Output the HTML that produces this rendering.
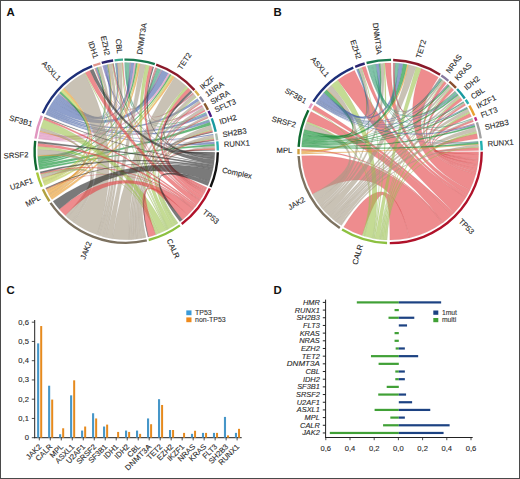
<!DOCTYPE html>
<html><head><meta charset="utf-8"><style>
html,body{margin:0;padding:0;background:#fff;}
svg{display:block;}
text{font-family:"Liberation Sans",sans-serif;}
</style></head><body>
<svg width="520" height="479" viewBox="0 0 520 479">
<rect x="0" y="0" width="520" height="479" fill="#fff"/>

<g font-size="7.7" fill="#2b2b2b" stroke="#2b2b2b" stroke-width="0.12">
<path d="M156.23 67.85A88.6 88.6 0 0 1 157.27 68.23Q126.2 151.2 192.76 92.72A88.6 88.6 0 0 1 193.86 94Q126.2 151.2 156.23 67.85Z" fill="#be5761" fill-opacity="0.6" stroke="#ac7b80" stroke-width="0.35" stroke-opacity="0.35"/>
<path d="M155.19 67.48A88.6 88.6 0 0 1 156.23 67.85Q126.2 151.2 201.82 105.04A88.6 88.6 0 0 1 202.71 106.52Q126.2 151.2 155.19 67.48Z" fill="#be5761" fill-opacity="0.6" stroke="#ac7b80" stroke-width="0.35" stroke-opacity="0.35"/>
<path d="M126.15 62.6A88.6 88.6 0 0 1 129.59 62.66Q126.2 151.2 157.27 68.23A88.6 88.6 0 0 1 160.48 69.5Q126.2 151.2 126.15 62.6Z" fill="#2b9d6e" fill-opacity="0.6" stroke="#669c86" stroke-width="0.35" stroke-opacity="0.35"/>
<path d="M125.32 62.6A88.6 88.6 0 0 1 126.15 62.6Q126.2 151.2 205.83 112.36A88.6 88.6 0 0 1 206.32 113.37Q126.2 151.2 125.32 62.6Z" fill="#2b9d6e" fill-opacity="0.6" stroke="#669c86" stroke-width="0.35" stroke-opacity="0.35"/>
<path d="M124.5 62.62A88.6 88.6 0 0 1 125.32 62.6Q126.2 151.2 208.92 119.45A88.6 88.6 0 0 1 209.26 120.36Q126.2 151.2 124.5 62.62Z" fill="#2b9d6e" fill-opacity="0.6" stroke="#669c86" stroke-width="0.35" stroke-opacity="0.35"/>
<path d="M114.94 63.32A88.6 88.6 0 0 1 115.81 63.21Q126.2 151.2 160.48 69.5A88.6 88.6 0 0 1 161.11 69.77Q126.2 151.2 114.94 63.32Z" fill="#46a389" fill-opacity="0.6" stroke="#73a093" stroke-width="0.35" stroke-opacity="0.35"/>
<path d="M103.65 65.52A88.6 88.6 0 0 1 104.28 65.35Q126.2 151.2 129.59 62.66A88.6 88.6 0 0 1 130.27 62.69Q126.2 151.2 103.65 65.52Z" fill="#6e61be" fill-opacity="0.6" stroke="#8680ac" stroke-width="0.35" stroke-opacity="0.35"/>
<path d="M102.9 65.72A88.6 88.6 0 0 1 103.65 65.52Q126.2 151.2 161.11 69.77A88.6 88.6 0 0 1 161.87 70.1Q126.2 151.2 102.9 65.72Z" fill="#6e61be" fill-opacity="0.6" stroke="#8680ac" stroke-width="0.35" stroke-opacity="0.35"/>
<path d="M102.52 65.82A88.6 88.6 0 0 1 102.9 65.72Q126.2 151.2 214.3 141.79A88.6 88.6 0 0 1 214.35 142.3Q126.2 151.2 102.52 65.82Z" fill="#6e61be" fill-opacity="0.6" stroke="#8680ac" stroke-width="0.35" stroke-opacity="0.35"/>
<path d="M95 68.28A88.6 88.6 0 0 1 95.55 68.07Q126.2 151.2 130.27 62.69A88.6 88.6 0 0 1 130.69 62.71Q126.2 151.2 95 68.28Z" fill="#d96e61" fill-opacity="0.6" stroke="#b98680" stroke-width="0.35" stroke-opacity="0.35"/>
<path d="M94.45 68.48A88.6 88.6 0 0 1 95 68.28Q126.2 151.2 161.87 70.1A88.6 88.6 0 0 1 162.25 70.27Q126.2 151.2 94.45 68.48Z" fill="#d96e61" fill-opacity="0.6" stroke="#b98680" stroke-width="0.35" stroke-opacity="0.35"/>
<path d="M58.07 94.56A88.6 88.6 0 0 1 58.83 93.66Q126.2 151.2 95.55 68.07A88.6 88.6 0 0 1 97.03 67.54Q126.2 151.2 58.07 94.56Z" fill="#4461aa" fill-opacity="0.6" stroke="#7280a3" stroke-width="0.35" stroke-opacity="0.35"/>
<path d="M56.21 96.87A88.6 88.6 0 0 1 58.07 94.56Q126.2 151.2 104.28 65.35A88.6 88.6 0 0 1 106.8 64.75Q126.2 151.2 56.21 96.87Z" fill="#4461aa" fill-opacity="0.6" stroke="#7280a3" stroke-width="0.35" stroke-opacity="0.35"/>
<path d="M55.31 98.05A88.6 88.6 0 0 1 56.21 96.87Q126.2 151.2 115.81 63.21A88.6 88.6 0 0 1 117.54 63.02Q126.2 151.2 55.31 98.05Z" fill="#4461aa" fill-opacity="0.6" stroke="#7280a3" stroke-width="0.35" stroke-opacity="0.35"/>
<path d="M53.15 101.06A88.6 88.6 0 0 1 55.31 98.05Q126.2 151.2 130.69 62.71A88.6 88.6 0 0 1 134.12 62.95Q126.2 151.2 53.15 101.06Z" fill="#4461aa" fill-opacity="0.6" stroke="#7280a3" stroke-width="0.35" stroke-opacity="0.35"/>
<path d="M49.22 107.34A88.6 88.6 0 0 1 53.15 101.06Q126.2 151.2 162.25 70.27A88.6 88.6 0 0 1 168.44 73.32Q126.2 151.2 49.22 107.34Z" fill="#4461aa" fill-opacity="0.6" stroke="#7280a3" stroke-width="0.35" stroke-opacity="0.35"/>
<path d="M48.14 109.29A88.6 88.6 0 0 1 49.22 107.34Q126.2 151.2 197.42 98.5A88.6 88.6 0 0 1 199.06 100.78Q126.2 151.2 48.14 109.29Z" fill="#4461aa" fill-opacity="0.6" stroke="#7280a3" stroke-width="0.35" stroke-opacity="0.35"/>
<path d="M47.32 110.86A88.6 88.6 0 0 1 48.14 109.29Q126.2 151.2 206.32 113.37A88.6 88.6 0 0 1 207.25 115.42Q126.2 151.2 47.32 110.86Z" fill="#4461aa" fill-opacity="0.6" stroke="#7280a3" stroke-width="0.35" stroke-opacity="0.35"/>
<path d="M46.52 112.45A88.6 88.6 0 0 1 47.32 110.86Q126.2 151.2 209.26 120.36A88.6 88.6 0 0 1 209.92 122.19Q126.2 151.2 46.52 112.45Z" fill="#4461aa" fill-opacity="0.6" stroke="#7280a3" stroke-width="0.35" stroke-opacity="0.35"/>
<path d="M46.14 113.25A88.6 88.6 0 0 1 46.52 112.45Q126.2 151.2 213.11 133.99A88.6 88.6 0 0 1 213.29 134.92Q126.2 151.2 46.14 113.25Z" fill="#4461aa" fill-opacity="0.6" stroke="#7280a3" stroke-width="0.35" stroke-opacity="0.35"/>
<path d="M45.51 114.6A88.6 88.6 0 0 1 46.14 113.25Q126.2 151.2 214.35 142.3A88.6 88.6 0 0 1 214.51 144.02Q126.2 151.2 45.51 114.6Z" fill="#4461aa" fill-opacity="0.6" stroke="#7280a3" stroke-width="0.35" stroke-opacity="0.35"/>
<path d="M39.57 132.62A88.6 88.6 0 0 1 39.78 131.66Q126.2 151.2 58.83 93.66A88.6 88.6 0 0 1 59.31 93.1Q126.2 151.2 39.57 132.62Z" fill="#df82b7" fill-opacity="0.6" stroke="#bc90a9" stroke-width="0.35" stroke-opacity="0.35"/>
<path d="M39.45 133.2A88.6 88.6 0 0 1 39.57 132.62Q126.2 151.2 106.8 64.75A88.6 88.6 0 0 1 107.18 64.67Q126.2 151.2 39.45 133.2Z" fill="#df82b7" fill-opacity="0.6" stroke="#bc90a9" stroke-width="0.35" stroke-opacity="0.35"/>
<path d="M38.96 135.72A88.6 88.6 0 0 1 39.45 133.2Q126.2 151.2 134.12 62.95A88.6 88.6 0 0 1 135.89 63.13Q126.2 151.2 38.96 135.72Z" fill="#df82b7" fill-opacity="0.6" stroke="#bc90a9" stroke-width="0.35" stroke-opacity="0.35"/>
<path d="M38.55 138.24A88.6 88.6 0 0 1 38.96 135.72Q126.2 151.2 168.44 73.32A88.6 88.6 0 0 1 170.01 74.19Q126.2 151.2 38.55 138.24Z" fill="#df82b7" fill-opacity="0.6" stroke="#bc90a9" stroke-width="0.35" stroke-opacity="0.35"/>
<path d="M38.44 139.02A88.6 88.6 0 0 1 38.55 138.24Q126.2 151.2 202.71 106.52A88.6 88.6 0 0 1 203.14 107.27Q126.2 151.2 38.44 139.02Z" fill="#df82b7" fill-opacity="0.6" stroke="#bc90a9" stroke-width="0.35" stroke-opacity="0.35"/>
<path d="M37.93 158.78A88.6 88.6 0 0 1 37.74 156.22Q126.2 151.2 59.31 93.1A88.6 88.6 0 0 1 60.79 91.44Q126.2 151.2 37.93 158.78Z" fill="#008c25" fill-opacity="0.6" stroke="#499463" stroke-width="0.35" stroke-opacity="0.35"/>
<path d="M38 159.64A88.6 88.6 0 0 1 37.93 158.78Q126.2 151.2 97.03 67.54A88.6 88.6 0 0 1 97.96 67.22Q126.2 151.2 38 159.64Z" fill="#008c25" fill-opacity="0.6" stroke="#499463" stroke-width="0.35" stroke-opacity="0.35"/>
<path d="M38.09 160.49A88.6 88.6 0 0 1 38 159.64Q126.2 151.2 107.18 64.67A88.6 88.6 0 0 1 107.82 64.53Q126.2 151.2 38.09 160.49Z" fill="#008c25" fill-opacity="0.6" stroke="#499463" stroke-width="0.35" stroke-opacity="0.35"/>
<path d="M38.33 162.53A88.6 88.6 0 0 1 38.09 160.49Q126.2 151.2 135.89 63.13A88.6 88.6 0 0 1 137.53 63.33Q126.2 151.2 38.33 162.53Z" fill="#008c25" fill-opacity="0.6" stroke="#499463" stroke-width="0.35" stroke-opacity="0.35"/>
<path d="M38.56 164.23A88.6 88.6 0 0 1 38.33 162.53Q126.2 151.2 170.01 74.19A88.6 88.6 0 0 1 171.2 74.88Q126.2 151.2 38.56 164.23Z" fill="#008c25" fill-opacity="0.6" stroke="#499463" stroke-width="0.35" stroke-opacity="0.35"/>
<path d="M39.13 167.61A88.6 88.6 0 0 1 38.56 164.23Q126.2 151.2 209.92 122.19A88.6 88.6 0 0 1 210.92 125.27Q126.2 151.2 39.13 167.61Z" fill="#008c25" fill-opacity="0.6" stroke="#499463" stroke-width="0.35" stroke-opacity="0.35"/>
<path d="M39.54 169.62A88.6 88.6 0 0 1 39.13 167.61Q126.2 151.2 214.51 144.02A88.6 88.6 0 0 1 214.65 146.09Q126.2 151.2 39.54 169.62Z" fill="#008c25" fill-opacity="0.6" stroke="#499463" stroke-width="0.35" stroke-opacity="0.35"/>
<path d="M42.93 181.46A88.6 88.6 0 0 1 41.91 178.5Q126.2 151.2 60.79 91.44A88.6 88.6 0 0 1 62.83 89.28Q126.2 151.2 42.93 181.46Z" fill="#b9cb43" fill-opacity="0.6" stroke="#aab371" stroke-width="0.35" stroke-opacity="0.35"/>
<path d="M43.09 181.9A88.6 88.6 0 0 1 42.93 181.46Q126.2 151.2 97.96 67.22A88.6 88.6 0 0 1 98.52 67.04Q126.2 151.2 43.09 181.9Z" fill="#b9cb43" fill-opacity="0.6" stroke="#aab371" stroke-width="0.35" stroke-opacity="0.35"/>
<path d="M43.25 182.34A88.6 88.6 0 0 1 43.09 181.9Q126.2 151.2 107.82 64.53A88.6 88.6 0 0 1 108.2 64.45Q126.2 151.2 43.25 182.34Z" fill="#b9cb43" fill-opacity="0.6" stroke="#aab371" stroke-width="0.35" stroke-opacity="0.35"/>
<path d="M43.7 183.51A88.6 88.6 0 0 1 43.25 182.34Q126.2 151.2 137.53 63.33A88.6 88.6 0 0 1 138.62 63.48Q126.2 151.2 43.7 183.51Z" fill="#b9cb43" fill-opacity="0.6" stroke="#aab371" stroke-width="0.35" stroke-opacity="0.35"/>
<path d="M44.58 185.68A88.6 88.6 0 0 1 43.7 183.51Q126.2 151.2 171.2 74.88A88.6 88.6 0 0 1 172.97 75.95Q126.2 151.2 44.58 185.68Z" fill="#b9cb43" fill-opacity="0.6" stroke="#aab371" stroke-width="0.35" stroke-opacity="0.35"/>
<path d="M46.4 189.69A88.6 88.6 0 0 1 46.15 189.17Q126.2 151.2 41.91 178.5A88.6 88.6 0 0 1 41.77 178.06Q126.2 151.2 46.4 189.69Z" fill="#e99621" fill-opacity="0.6" stroke="#c19961" stroke-width="0.35" stroke-opacity="0.35"/>
<path d="M46.9 190.73A88.6 88.6 0 0 1 46.4 189.69Q126.2 151.2 37.74 156.22A88.6 88.6 0 0 1 37.69 155.19Q126.2 151.2 46.9 190.73Z" fill="#e99621" fill-opacity="0.6" stroke="#c19961" stroke-width="0.35" stroke-opacity="0.35"/>
<path d="M47.34 191.59A88.6 88.6 0 0 1 46.9 190.73Q126.2 151.2 39.78 131.66A88.6 88.6 0 0 1 40 130.7Q126.2 151.2 47.34 191.59Z" fill="#e99621" fill-opacity="0.6" stroke="#c19961" stroke-width="0.35" stroke-opacity="0.35"/>
<path d="M48.7 194.14A88.6 88.6 0 0 1 47.34 191.59Q126.2 151.2 62.83 89.28A88.6 88.6 0 0 1 64.4 87.71Q126.2 151.2 48.7 194.14Z" fill="#e99621" fill-opacity="0.6" stroke="#c19961" stroke-width="0.35" stroke-opacity="0.35"/>
<path d="M48.98 194.64A88.6 88.6 0 0 1 48.7 194.14Q126.2 151.2 108.2 64.45A88.6 88.6 0 0 1 108.58 64.37Q126.2 151.2 48.98 194.64Z" fill="#e99621" fill-opacity="0.6" stroke="#c19961" stroke-width="0.35" stroke-opacity="0.35"/>
<path d="M49.27 195.14A88.6 88.6 0 0 1 48.98 194.64Q126.2 151.2 117.54 63.02A88.6 88.6 0 0 1 118.06 62.97Q126.2 151.2 49.27 195.14Z" fill="#e99621" fill-opacity="0.6" stroke="#c19961" stroke-width="0.35" stroke-opacity="0.35"/>
<path d="M50.44 197.14A88.6 88.6 0 0 1 49.27 195.14Q126.2 151.2 138.62 63.48A88.6 88.6 0 0 1 140.26 63.72Q126.2 151.2 50.44 197.14Z" fill="#e99621" fill-opacity="0.6" stroke="#c19961" stroke-width="0.35" stroke-opacity="0.35"/>
<path d="M51.98 199.58A88.6 88.6 0 0 1 50.44 197.14Q126.2 151.2 172.97 75.95A88.6 88.6 0 0 1 174.72 77.07Q126.2 151.2 51.98 199.58Z" fill="#e99621" fill-opacity="0.6" stroke="#c19961" stroke-width="0.35" stroke-opacity="0.35"/>
<path d="M67.62 217.67A88.6 88.6 0 0 1 65.29 215.54Q126.2 151.2 41.77 178.06A88.6 88.6 0 0 1 40.87 175.06Q126.2 151.2 67.62 217.67Z" fill="#a59984" fill-opacity="0.6" stroke="#a09b90" stroke-width="0.35" stroke-opacity="0.35"/>
<path d="M71.76 221.1A88.6 88.6 0 0 1 67.62 217.67Q126.2 151.2 37.69 155.19A88.6 88.6 0 0 1 37.62 149.37Q126.2 151.2 71.76 221.1Z" fill="#a59984" fill-opacity="0.6" stroke="#a09b90" stroke-width="0.35" stroke-opacity="0.35"/>
<path d="M73.65 222.53A88.6 88.6 0 0 1 71.76 221.1Q126.2 151.2 40 130.7A88.6 88.6 0 0 1 40.73 127.84Q126.2 151.2 73.65 222.53Z" fill="#a59984" fill-opacity="0.6" stroke="#a09b90" stroke-width="0.35" stroke-opacity="0.35"/>
<path d="M97.06 234.87A88.6 88.6 0 0 1 73.65 222.53Q126.2 151.2 64.4 87.71A88.6 88.6 0 0 1 84.43 73.06Q126.2 151.2 97.06 234.87Z" fill="#a59984" fill-opacity="0.6" stroke="#a09b90" stroke-width="0.35" stroke-opacity="0.35"/>
<path d="M99.31 235.62A88.6 88.6 0 0 1 97.06 234.87Q126.2 151.2 98.52 67.04A88.6 88.6 0 0 1 101.33 66.16Q126.2 151.2 99.31 235.62Z" fill="#a59984" fill-opacity="0.6" stroke="#a09b90" stroke-width="0.35" stroke-opacity="0.35"/>
<path d="M103.1 236.74A88.6 88.6 0 0 1 99.31 235.62Q126.2 151.2 108.58 64.37A88.6 88.6 0 0 1 111.77 63.78Q126.2 151.2 103.1 236.74Z" fill="#a59984" fill-opacity="0.6" stroke="#a09b90" stroke-width="0.35" stroke-opacity="0.35"/>
<path d="M106.17 237.51A88.6 88.6 0 0 1 103.1 236.74Q126.2 151.2 118.06 62.97A88.6 88.6 0 0 1 121.54 62.72Q126.2 151.2 106.17 237.51Z" fill="#a59984" fill-opacity="0.6" stroke="#a09b90" stroke-width="0.35" stroke-opacity="0.35"/>
<path d="M112.37 238.71A88.6 88.6 0 0 1 106.17 237.51Q126.2 151.2 140.26 63.72A88.6 88.6 0 0 1 145.66 64.76Q126.2 151.2 112.37 238.71Z" fill="#a59984" fill-opacity="0.6" stroke="#a09b90" stroke-width="0.35" stroke-opacity="0.35"/>
<path d="M129.07 239.75A88.6 88.6 0 0 1 112.37 238.71Q126.2 151.2 174.72 77.07A88.6 88.6 0 0 1 186.25 86.05Q126.2 151.2 129.07 239.75Z" fill="#a59984" fill-opacity="0.6" stroke="#a09b90" stroke-width="0.35" stroke-opacity="0.35"/>
<path d="M131.44 239.64A88.6 88.6 0 0 1 129.07 239.75Q126.2 151.2 193.86 94A88.6 88.6 0 0 1 195.85 96.44Q126.2 151.2 131.44 239.64Z" fill="#a59984" fill-opacity="0.6" stroke="#a09b90" stroke-width="0.35" stroke-opacity="0.35"/>
<path d="M133.33 239.51A88.6 88.6 0 0 1 131.44 239.64Q126.2 151.2 199.06 100.78A88.6 88.6 0 0 1 200.31 102.65Q126.2 151.2 133.33 239.51Z" fill="#a59984" fill-opacity="0.6" stroke="#a09b90" stroke-width="0.35" stroke-opacity="0.35"/>
<path d="M135.69 239.29A88.6 88.6 0 0 1 133.33 239.51Q126.2 151.2 203.14 107.27A88.6 88.6 0 0 1 204.69 110.1Q126.2 151.2 135.69 239.29Z" fill="#a59984" fill-opacity="0.6" stroke="#a09b90" stroke-width="0.35" stroke-opacity="0.35"/>
<path d="M137.26 239.11A88.6 88.6 0 0 1 135.69 239.29Q126.2 151.2 207.25 115.42A88.6 88.6 0 0 1 207.99 117.14Q126.2 151.2 137.26 239.11Z" fill="#a59984" fill-opacity="0.6" stroke="#a09b90" stroke-width="0.35" stroke-opacity="0.35"/>
<path d="M141.17 238.53A88.6 88.6 0 0 1 137.26 239.11Q126.2 151.2 210.92 125.27A88.6 88.6 0 0 1 212.02 129.17Q126.2 151.2 141.17 238.53Z" fill="#a59984" fill-opacity="0.6" stroke="#a09b90" stroke-width="0.35" stroke-opacity="0.35"/>
<path d="M144.28 237.94A88.6 88.6 0 0 1 141.17 238.53Q126.2 151.2 213.29 134.92A88.6 88.6 0 0 1 213.82 138.04Q126.2 151.2 144.28 237.94Z" fill="#a59984" fill-opacity="0.6" stroke="#a09b90" stroke-width="0.35" stroke-opacity="0.35"/>
<path d="M146.13 237.53A88.6 88.6 0 0 1 144.28 237.94Q126.2 151.2 214.65 146.09A88.6 88.6 0 0 1 214.75 148.16Q126.2 151.2 146.13 237.53Z" fill="#a59984" fill-opacity="0.6" stroke="#a09b90" stroke-width="0.35" stroke-opacity="0.35"/>
<path d="M156.62 234.41A88.6 88.6 0 0 1 155.68 234.75Q126.2 151.2 40.87 175.06A88.6 88.6 0 0 1 40.63 174.16Q126.2 151.2 156.62 234.41Z" fill="#9dc34d" fill-opacity="0.6" stroke="#9caf76" stroke-width="0.35" stroke-opacity="0.35"/>
<path d="M159.4 233.35A88.6 88.6 0 0 1 156.62 234.41Q126.2 151.2 37.62 149.37A88.6 88.6 0 0 1 37.74 146.29Q126.2 151.2 159.4 233.35Z" fill="#9dc34d" fill-opacity="0.6" stroke="#9caf76" stroke-width="0.35" stroke-opacity="0.35"/>
<path d="M166.17 230.27A88.6 88.6 0 0 1 159.4 233.35Q126.2 151.2 40.73 127.84A88.6 88.6 0 0 1 43.49 119.42Q126.2 151.2 166.17 230.27Z" fill="#9dc34d" fill-opacity="0.6" stroke="#9caf76" stroke-width="0.35" stroke-opacity="0.35"/>
<path d="M167.05 229.82A88.6 88.6 0 0 1 166.17 230.27Q126.2 151.2 84.43 73.06A88.6 88.6 0 0 1 85.22 72.65Q126.2 151.2 167.05 229.82Z" fill="#9dc34d" fill-opacity="0.6" stroke="#9caf76" stroke-width="0.35" stroke-opacity="0.35"/>
<path d="M167.78 229.44A88.6 88.6 0 0 1 167.05 229.82Q126.2 151.2 111.77 63.78A88.6 88.6 0 0 1 112.41 63.68Q126.2 151.2 167.78 229.44Z" fill="#9dc34d" fill-opacity="0.6" stroke="#9caf76" stroke-width="0.35" stroke-opacity="0.35"/>
<path d="M168.51 229.05A88.6 88.6 0 0 1 167.78 229.44Q126.2 151.2 121.54 62.72A88.6 88.6 0 0 1 122.41 62.68Q126.2 151.2 168.51 229.05Z" fill="#9dc34d" fill-opacity="0.6" stroke="#9caf76" stroke-width="0.35" stroke-opacity="0.35"/>
<path d="M172.8 226.56A88.6 88.6 0 0 1 168.51 229.05Q126.2 151.2 145.66 64.76A88.6 88.6 0 0 1 149.66 65.76Q126.2 151.2 172.8 226.56Z" fill="#9dc34d" fill-opacity="0.6" stroke="#9caf76" stroke-width="0.35" stroke-opacity="0.35"/>
<path d="M175.58 224.77A88.6 88.6 0 0 1 172.8 226.56Q126.2 151.2 186.25 86.05A88.6 88.6 0 0 1 188.25 87.95Q126.2 151.2 175.58 224.77Z" fill="#9dc34d" fill-opacity="0.6" stroke="#9caf76" stroke-width="0.35" stroke-opacity="0.35"/>
<path d="M176.26 224.3A88.6 88.6 0 0 1 175.58 224.77Q126.2 151.2 195.85 96.44A88.6 88.6 0 0 1 196.49 97.26Q126.2 151.2 176.26 224.3Z" fill="#9dc34d" fill-opacity="0.6" stroke="#9caf76" stroke-width="0.35" stroke-opacity="0.35"/>
<path d="M177.35 223.55A88.6 88.6 0 0 1 176.26 224.3Q126.2 151.2 212.02 129.17A88.6 88.6 0 0 1 212.33 130.42Q126.2 151.2 177.35 223.55Z" fill="#9dc34d" fill-opacity="0.6" stroke="#9caf76" stroke-width="0.35" stroke-opacity="0.35"/>
<path d="M178.15 222.97A88.6 88.6 0 0 1 177.35 223.55Q126.2 151.2 213.82 138.04A88.6 88.6 0 0 1 213.95 138.98Q126.2 151.2 178.15 222.97Z" fill="#9dc34d" fill-opacity="0.6" stroke="#9caf76" stroke-width="0.35" stroke-opacity="0.35"/>
<path d="M187.49 215.18A88.6 88.6 0 0 1 182.47 219.64Q126.2 151.2 155.68 234.75A88.6 88.6 0 0 1 148.57 236.93Q126.2 151.2 187.49 215.18Z" fill="#e33f43" fill-opacity="0.6" stroke="#be7071" stroke-width="0.35" stroke-opacity="0.35"/>
<path d="M193.16 209.22A88.6 88.6 0 0 1 187.49 215.18Q126.2 151.2 65.29 215.54A88.6 88.6 0 0 1 59.28 209.26Q126.2 151.2 193.16 209.22Z" fill="#e33f43" fill-opacity="0.6" stroke="#be7071" stroke-width="0.35" stroke-opacity="0.35"/>
<path d="M193.35 209A88.6 88.6 0 0 1 193.16 209.22Q126.2 151.2 46.15 189.17A88.6 88.6 0 0 1 45.98 188.82Q126.2 151.2 193.35 209Z" fill="#e33f43" fill-opacity="0.6" stroke="#be7071" stroke-width="0.35" stroke-opacity="0.35"/>
<path d="M193.93 208.32A88.6 88.6 0 0 1 193.35 209Q126.2 151.2 40.63 174.16A88.6 88.6 0 0 1 40.39 173.25Q126.2 151.2 193.93 208.32Z" fill="#e33f43" fill-opacity="0.6" stroke="#be7071" stroke-width="0.35" stroke-opacity="0.35"/>
<path d="M195.64 206.23A88.6 88.6 0 0 1 193.93 208.32Q126.2 151.2 37.74 146.29A88.6 88.6 0 0 1 37.96 143.22Q126.2 151.2 195.64 206.23Z" fill="#e33f43" fill-opacity="0.6" stroke="#be7071" stroke-width="0.35" stroke-opacity="0.35"/>
<path d="M196.55 205.05A88.6 88.6 0 0 1 195.64 206.23Q126.2 151.2 43.49 119.42A88.6 88.6 0 0 1 44.22 117.59Q126.2 151.2 196.55 205.05Z" fill="#e33f43" fill-opacity="0.6" stroke="#be7071" stroke-width="0.35" stroke-opacity="0.35"/>
<path d="M199.61 200.81A88.6 88.6 0 0 1 196.55 205.05Q126.2 151.2 85.22 72.65A88.6 88.6 0 0 1 89.89 70.38Q126.2 151.2 199.61 200.81Z" fill="#e33f43" fill-opacity="0.6" stroke="#be7071" stroke-width="0.35" stroke-opacity="0.35"/>
<path d="M200.11 200.07A88.6 88.6 0 0 1 199.61 200.81Q126.2 151.2 112.41 63.68A88.6 88.6 0 0 1 113.18 63.56Q126.2 151.2 200.11 200.07Z" fill="#e33f43" fill-opacity="0.6" stroke="#be7071" stroke-width="0.35" stroke-opacity="0.35"/>
<path d="M200.43 199.57A88.6 88.6 0 0 1 200.11 200.07Q126.2 151.2 122.41 62.68A88.6 88.6 0 0 1 123.11 62.65Q126.2 151.2 200.43 199.57Z" fill="#e33f43" fill-opacity="0.6" stroke="#be7071" stroke-width="0.35" stroke-opacity="0.35"/>
<path d="M202.33 196.52A88.6 88.6 0 0 1 200.43 199.57Q126.2 151.2 149.66 65.76A88.6 88.6 0 0 1 152.83 66.7Q126.2 151.2 202.33 196.52Z" fill="#e33f43" fill-opacity="0.6" stroke="#be7071" stroke-width="0.35" stroke-opacity="0.35"/>
<path d="M204.31 193.01A88.6 88.6 0 0 1 202.33 196.52Q126.2 151.2 188.25 87.95A88.6 88.6 0 0 1 190.85 90.62Q126.2 151.2 204.31 193.01Z" fill="#e33f43" fill-opacity="0.6" stroke="#be7071" stroke-width="0.35" stroke-opacity="0.35"/>
<path d="M204.73 192.22A88.6 88.6 0 0 1 204.31 193.01Q126.2 151.2 200.31 102.65A88.6 88.6 0 0 1 200.92 103.6Q126.2 151.2 204.73 192.22Z" fill="#e33f43" fill-opacity="0.6" stroke="#be7071" stroke-width="0.35" stroke-opacity="0.35"/>
<path d="M205.14 191.42A88.6 88.6 0 0 1 204.73 192.22Q126.2 151.2 204.69 110.1A88.6 88.6 0 0 1 205.28 111.25Q126.2 151.2 205.14 191.42Z" fill="#e33f43" fill-opacity="0.6" stroke="#be7071" stroke-width="0.35" stroke-opacity="0.35"/>
<path d="M205.48 190.75A88.6 88.6 0 0 1 205.14 191.42Q126.2 151.2 207.99 117.14A88.6 88.6 0 0 1 208.35 118.01Q126.2 151.2 205.48 190.75Z" fill="#e33f43" fill-opacity="0.6" stroke="#be7071" stroke-width="0.35" stroke-opacity="0.35"/>
<path d="M206.01 189.68A88.6 88.6 0 0 1 205.48 190.75Q126.2 151.2 212.33 130.42A88.6 88.6 0 0 1 212.62 131.69Q126.2 151.2 206.01 189.68Z" fill="#e33f43" fill-opacity="0.6" stroke="#be7071" stroke-width="0.35" stroke-opacity="0.35"/>
<path d="M206.52 188.6A88.6 88.6 0 0 1 206.01 189.68Q126.2 151.2 213.95 138.98A88.6 88.6 0 0 1 214.12 140.24Q126.2 151.2 206.52 188.6Z" fill="#e33f43" fill-opacity="0.6" stroke="#be7071" stroke-width="0.35" stroke-opacity="0.35"/>
<path d="M207.08 187.38A88.6 88.6 0 0 1 206.52 188.6Q126.2 151.2 214.75 148.16A88.6 88.6 0 0 1 214.79 149.72Q126.2 151.2 207.08 187.38Z" fill="#e33f43" fill-opacity="0.6" stroke="#be7071" stroke-width="0.35" stroke-opacity="0.35"/>
<path d="M209.27 182.01A88.6 88.6 0 0 1 207.76 185.82Q126.2 151.2 182.47 219.64A88.6 88.6 0 0 1 179.89 221.68Q126.2 151.2 209.27 182.01Z" fill="#212121" fill-opacity="0.6" stroke="#616161" stroke-width="0.35" stroke-opacity="0.35"/>
<path d="M209.53 181.31A88.6 88.6 0 0 1 209.27 182.01Q126.2 151.2 148.57 236.93A88.6 88.6 0 0 1 147.93 237.09Q126.2 151.2 209.53 181.31Z" fill="#212121" fill-opacity="0.6" stroke="#616161" stroke-width="0.35" stroke-opacity="0.35"/>
<path d="M212.85 169.68A88.6 88.6 0 0 1 209.53 181.31Q126.2 151.2 59.28 209.26A88.6 88.6 0 0 1 53.01 201.13Q126.2 151.2 212.85 169.68Z" fill="#212121" fill-opacity="0.6" stroke="#616161" stroke-width="0.35" stroke-opacity="0.35"/>
<path d="M213.04 168.77A88.6 88.6 0 0 1 212.85 169.68Q126.2 151.2 45.98 188.82A88.6 88.6 0 0 1 45.58 187.94Q126.2 151.2 213.04 168.77Z" fill="#212121" fill-opacity="0.6" stroke="#616161" stroke-width="0.35" stroke-opacity="0.35"/>
<path d="M213.39 166.94A88.6 88.6 0 0 1 213.04 168.77Q126.2 151.2 40.39 173.25A88.6 88.6 0 0 1 40.01 171.73Q126.2 151.2 213.39 166.94Z" fill="#212121" fill-opacity="0.6" stroke="#616161" stroke-width="0.35" stroke-opacity="0.35"/>
<path d="M213.76 164.74A88.6 88.6 0 0 1 213.39 166.94Q126.2 151.2 37.96 143.22A88.6 88.6 0 0 1 38.17 141.17Q126.2 151.2 213.76 164.74Z" fill="#212121" fill-opacity="0.6" stroke="#616161" stroke-width="0.35" stroke-opacity="0.35"/>
<path d="M213.87 164A88.6 88.6 0 0 1 213.76 164.74Q126.2 151.2 44.22 117.59A88.6 88.6 0 0 1 44.52 116.87Q126.2 151.2 213.87 164Z" fill="#212121" fill-opacity="0.6" stroke="#616161" stroke-width="0.35" stroke-opacity="0.35"/>
<path d="M214.42 159.38A88.6 88.6 0 0 1 213.87 164Q126.2 151.2 89.89 70.38A88.6 88.6 0 0 1 93.3 68.94Q126.2 151.2 214.42 159.38Z" fill="#212121" fill-opacity="0.6" stroke="#616161" stroke-width="0.35" stroke-opacity="0.35"/>
<path d="M214.47 158.82A88.6 88.6 0 0 1 214.42 159.38Q126.2 151.2 113.18 63.56A88.6 88.6 0 0 1 113.56 63.51Q126.2 151.2 214.47 158.82Z" fill="#212121" fill-opacity="0.6" stroke="#616161" stroke-width="0.35" stroke-opacity="0.35"/>
<path d="M214.59 157.34A88.6 88.6 0 0 1 214.47 158.82Q126.2 151.2 152.83 66.7A88.6 88.6 0 0 1 153.87 67.03Q126.2 151.2 214.59 157.34Z" fill="#212121" fill-opacity="0.6" stroke="#616161" stroke-width="0.35" stroke-opacity="0.35"/>
<path d="M214.74 154.55A88.6 88.6 0 0 1 214.59 157.34Q126.2 151.2 190.85 90.62A88.6 88.6 0 0 1 192.25 92.15Q126.2 151.2 214.74 154.55Z" fill="#212121" fill-opacity="0.6" stroke="#616161" stroke-width="0.35" stroke-opacity="0.35"/>
<path d="M214.77 153.62A88.6 88.6 0 0 1 214.74 154.55Q126.2 151.2 212.62 131.69A88.6 88.6 0 0 1 212.8 132.48Q126.2 151.2 214.77 153.62Z" fill="#212121" fill-opacity="0.6" stroke="#616161" stroke-width="0.35" stroke-opacity="0.35"/>
<path d="M214.78 153.06A88.6 88.6 0 0 1 214.77 153.62Q126.2 151.2 214.12 140.24A88.6 88.6 0 0 1 214.18 140.71Q126.2 151.2 214.78 153.06Z" fill="#212121" fill-opacity="0.6" stroke="#616161" stroke-width="0.35" stroke-opacity="0.35"/>
<path d="M214.8 152.13A88.6 88.6 0 0 1 214.78 153.06Q126.2 151.2 214.79 149.72A88.6 88.6 0 0 1 214.8 150.58Q126.2 151.2 214.8 152.13Z" fill="#212121" fill-opacity="0.6" stroke="#616161" stroke-width="0.35" stroke-opacity="0.35"/>
<path d="M217.79 152.16A91.6 91.6 0 0 1 210.52 186.99" fill="none" stroke="#111111" stroke-width="2.4"/>
<path d="M209.82 188.6A91.6 91.6 0 0 1 181.71 224.07" fill="none" stroke="#b0122a" stroke-width="2.4"/>
<path d="M179.91 225.4A91.6 91.6 0 0 1 148.67 240" fill="none" stroke="#8cc040" stroke-width="2.4"/>
<path d="M146.81 240.45A91.6 91.6 0 0 1 50.53 202.82" fill="none" stroke="#7d7260" stroke-width="2.4"/>
<path d="M49.46 201.22A91.6 91.6 0 0 1 42.85 189.19" fill="none" stroke="#b0a040" stroke-width="2.4"/>
<path d="M41.82 186.84A91.6 91.6 0 0 1 37.09 172.43" fill="none" stroke="#a8c83c" stroke-width="2.4"/>
<path d="M36.6 170.24A91.6 91.6 0 0 1 35.19 140.83" fill="none" stroke="#0e6a30" stroke-width="2.4"/>
<path d="M35.47 138.61A91.6 91.6 0 0 1 41.76 115.7" fill="none" stroke="#e096c0" stroke-width="2.4"/>
<path d="M42.78 113.36A91.6 91.6 0 0 1 92.18 66.15" fill="none" stroke="#1d2f78" stroke-width="2.4"/>
<path d="M93.37 65.68A91.6 91.6 0 0 1 100.49 63.28" fill="none" stroke="#e0958c" stroke-width="2.4"/>
<path d="M101.72 62.93A91.6 91.6 0 0 1 113.14 60.54" fill="none" stroke="#2a2470" stroke-width="2.4"/>
<path d="M114.56 60.34A91.6 91.6 0 0 1 123 59.66" fill="none" stroke="#3aa88c" stroke-width="2.4"/>
<path d="M124.44 59.62A91.6 91.6 0 0 1 154.81 64.18" fill="none" stroke="#1a7a50" stroke-width="2.4"/>
<path d="M156.17 64.64A91.6 91.6 0 0 1 194.49 90.15" fill="none" stroke="#8a1a2a" stroke-width="2.4"/>
<path d="M195.02 90.74A91.6 91.6 0 0 1 198.87 95.44" fill="none" stroke="#d8b050" stroke-width="2.4"/>
<path d="M199.83 96.71A91.6 91.6 0 0 1 203.45 101.98" fill="none" stroke="#8a8a9e" stroke-width="2.4"/>
<path d="M204.39 103.48A91.6 91.6 0 0 1 207.96 109.9" fill="none" stroke="#8a5a30" stroke-width="2.4"/>
<path d="M208.53 111.05A91.6 91.6 0 0 1 211.13 116.89" fill="none" stroke="#4a1a80" stroke-width="2.4"/>
<path d="M211.72 118.37A91.6 91.6 0 0 1 215.73 131.84" fill="none" stroke="#1a9aa0" stroke-width="2.4"/>
<path d="M216.06 133.41A91.6 91.6 0 0 1 217.16 140.35" fill="none" stroke="#a8bcb0" stroke-width="2.4"/>
<path d="M217.28 141.47A91.6 91.6 0 0 1 217.8 150.56" fill="none" stroke="#2ab0b0" stroke-width="2.4"/>
<text x="221.93" y="171.2" dy="1.3" transform="rotate(371.8 221.93 171.2)" text-anchor="start">Complex</text>
<text x="202.85" y="211.95" dy="1.3" transform="rotate(398.4 202.85 211.95)" text-anchor="start">TP53</text>
<text x="167.61" y="239.8" dy="1.3" transform="rotate(424.95 167.61 239.8)" text-anchor="start">CALR</text>
<text x="90.59" y="242.29" dy="1.3" transform="rotate(291.35 90.59 242.29)" text-anchor="end">JAK2</text>
<text x="40.5" y="198.32" dy="1.3" transform="rotate(331.2 40.5 198.32)" text-anchor="end">MPL</text>
<text x="33.27" y="181.67" dy="1.3" transform="rotate(341.85 33.27 181.67)" text-anchor="end">U2AF1</text>
<text x="28.51" y="155.89" dy="1.3" transform="rotate(357.25 28.51 155.89)" text-anchor="end">SRSF2</text>
<text x="31.89" y="125.31" dy="1.3" transform="rotate(375.35 31.89 125.31)" text-anchor="end">SF3B1</text>
<text x="58.63" y="80.49" dy="1.3" transform="rotate(46.3 58.63 80.49)" text-anchor="end">ASXL1</text>
<text x="94.92" y="58.54" dy="1.3" transform="rotate(71.35 94.92 58.54)" text-anchor="end">IDH1</text>
<text x="106.12" y="55.48" dy="1.3" transform="rotate(78.15 106.12 55.48)" text-anchor="end">EZH2</text>
<text x="118.27" y="53.72" dy="1.3" transform="rotate(85.35 118.27 53.72)" text-anchor="end">CBL</text>
<text x="140.74" y="54.49" dy="1.3" transform="rotate(278.55 140.74 54.49)" text-anchor="start">DNMT3A</text>
<text x="180.39" y="69.79" dy="1.3" transform="rotate(303.65 180.39 69.79)" text-anchor="start">TET2</text>
<text x="201.77" y="89.12" dy="1.3" transform="rotate(320.6 201.77 89.12)" text-anchor="start">IKZF</text>
<text x="206.8" y="95.81" dy="1.3" transform="rotate(325.5 206.8 95.81)" text-anchor="start">1NRA</text>
<text x="211.65" y="103.64" dy="1.3" transform="rotate(330.9 211.65 103.64)" text-anchor="start">SKRA</text>
<text x="215.54" y="111.42" dy="1.3" transform="rotate(336 215.54 111.42)" text-anchor="start">SFLT3</text>
<text x="219.92" y="123.26" dy="1.3" transform="rotate(343.4 219.92 123.26)" text-anchor="start">IDH2</text>
<text x="222.8" y="135.9" dy="1.3" transform="rotate(351 222.8 135.9)" text-anchor="start">SH2B3</text>
<text x="223.84" y="145.66" dy="1.3" transform="rotate(356.75 223.84 145.66)" text-anchor="start">RUNX1</text>
</g>
<g font-size="7.7" fill="#2b2b2b" stroke="#2b2b2b" stroke-width="0.12">
<path d="M409.33 237.99A88.6 88.6 0 0 1 389.79 240.1Q390.1 151.5 362.16 235.58A88.6 88.6 0 0 1 343.67 226.96Q390.1 151.5 409.33 237.99Z" fill="#e33f43" fill-opacity="0.6" stroke="#be7071" stroke-width="0.35" stroke-opacity="0.35"/>
<path d="M442.28 223.1A88.6 88.6 0 0 1 409.33 237.99Q390.1 151.5 312.45 194.17A88.6 88.6 0 0 1 301.61 155.83Q390.1 151.5 442.28 223.1Z" fill="#e33f43" fill-opacity="0.6" stroke="#be7071" stroke-width="0.35" stroke-opacity="0.35"/>
<path d="M443.15 222.46A88.6 88.6 0 0 1 442.28 223.1Q390.1 151.5 301.51 150.43A88.6 88.6 0 0 1 301.53 149.03Q390.1 151.5 443.15 222.46Z" fill="#e33f43" fill-opacity="0.6" stroke="#be7071" stroke-width="0.35" stroke-opacity="0.35"/>
<path d="M451.86 215.02A88.6 88.6 0 0 1 443.15 222.46Q390.1 151.5 306.72 121.53A88.6 88.6 0 0 1 311.02 111.55Q390.1 151.5 451.86 215.02Z" fill="#e33f43" fill-opacity="0.6" stroke="#be7071" stroke-width="0.35" stroke-opacity="0.35"/>
<path d="M454.24 212.63A88.6 88.6 0 0 1 451.86 215.02Q390.1 151.5 312.28 109.15A88.6 88.6 0 0 1 314.56 105.21Q390.1 151.5 454.24 212.63Z" fill="#e33f43" fill-opacity="0.6" stroke="#be7071" stroke-width="0.35" stroke-opacity="0.35"/>
<path d="M465.71 197.68A88.6 88.6 0 0 1 454.24 212.63Q390.1 151.5 337.65 80.09A88.6 88.6 0 0 1 354.49 70.37Q390.1 151.5 465.71 197.68Z" fill="#e33f43" fill-opacity="0.6" stroke="#be7071" stroke-width="0.35" stroke-opacity="0.35"/>
<path d="M467.42 194.77A88.6 88.6 0 0 1 465.71 197.68Q390.1 151.5 361.66 67.59A88.6 88.6 0 0 1 365.53 66.37Q390.1 151.5 467.42 194.77Z" fill="#e33f43" fill-opacity="0.6" stroke="#be7071" stroke-width="0.35" stroke-opacity="0.35"/>
<path d="M469.91 189.98A88.6 88.6 0 0 1 467.42 194.77Q390.1 151.5 384.89 63.05A88.6 88.6 0 0 1 391.03 62.9Q390.1 151.5 469.91 189.98Z" fill="#e33f43" fill-opacity="0.6" stroke="#be7071" stroke-width="0.35" stroke-opacity="0.35"/>
<path d="M475.74 174.19A88.6 88.6 0 0 1 469.91 189.98Q390.1 151.5 421.21 68.54A88.6 88.6 0 0 1 438.48 77.28Q390.1 151.5 475.74 174.19Z" fill="#e33f43" fill-opacity="0.6" stroke="#be7071" stroke-width="0.35" stroke-opacity="0.35"/>
<path d="M476.4 171.58A88.6 88.6 0 0 1 475.74 174.19Q390.1 151.5 444.2 81.34A88.6 88.6 0 0 1 446.46 83.13Q390.1 151.5 476.4 171.58Z" fill="#e33f43" fill-opacity="0.6" stroke="#be7071" stroke-width="0.35" stroke-opacity="0.35"/>
<path d="M476.97 168.94A88.6 88.6 0 0 1 476.4 171.58Q390.1 151.5 451.61 87.73A88.6 88.6 0 0 1 453.83 89.95Q390.1 151.5 476.97 168.94Z" fill="#e33f43" fill-opacity="0.6" stroke="#be7071" stroke-width="0.35" stroke-opacity="0.35"/>
<path d="M477.57 165.62A88.6 88.6 0 0 1 476.97 168.94Q390.1 151.5 460.44 97.63A88.6 88.6 0 0 1 462.32 100.18Q390.1 151.5 477.57 165.62Z" fill="#e33f43" fill-opacity="0.6" stroke="#be7071" stroke-width="0.35" stroke-opacity="0.35"/>
<path d="M477.81 164.02A88.6 88.6 0 0 1 477.57 165.62Q390.1 151.5 464.67 103.65A88.6 88.6 0 0 1 465.72 105.34Q390.1 151.5 477.81 164.02Z" fill="#e33f43" fill-opacity="0.6" stroke="#be7071" stroke-width="0.35" stroke-opacity="0.35"/>
<path d="M478.22 160.67A88.6 88.6 0 0 1 477.81 164.02Q390.1 151.5 469.96 113.13A88.6 88.6 0 0 1 471.54 116.6Q390.1 151.5 478.22 160.67Z" fill="#e33f43" fill-opacity="0.6" stroke="#be7071" stroke-width="0.35" stroke-opacity="0.35"/>
<path d="M478.38 159.06A88.6 88.6 0 0 1 478.22 160.67Q390.1 151.5 472.87 119.88A88.6 88.6 0 0 1 473.57 121.78Q390.1 151.5 478.38 159.06Z" fill="#e33f43" fill-opacity="0.6" stroke="#be7071" stroke-width="0.35" stroke-opacity="0.35"/>
<path d="M478.65 154.35A88.6 88.6 0 0 1 478.38 159.06Q390.1 151.5 476.87 133.58A88.6 88.6 0 0 1 477.79 138.86Q390.1 151.5 478.65 154.35Z" fill="#e33f43" fill-opacity="0.6" stroke="#be7071" stroke-width="0.35" stroke-opacity="0.35"/>
<path d="M478.7 151.65A88.6 88.6 0 0 1 478.65 154.35Q390.1 151.5 478.6 147.38A88.6 88.6 0 0 1 478.69 150.42Q390.1 151.5 478.7 151.65Z" fill="#e33f43" fill-opacity="0.6" stroke="#be7071" stroke-width="0.35" stroke-opacity="0.35"/>
<path d="M364.16 236.22A88.6 88.6 0 0 1 362.16 235.58Q390.1 151.5 306.09 123.34A88.6 88.6 0 0 1 306.72 121.53Q390.1 151.5 364.16 236.22Z" fill="#9dc34d" fill-opacity="0.6" stroke="#9caf76" stroke-width="0.35" stroke-opacity="0.35"/>
<path d="M364.57 236.34A88.6 88.6 0 0 1 364.16 236.22Q390.1 151.5 312.02 109.63A88.6 88.6 0 0 1 312.28 109.15Q390.1 151.5 364.57 236.34Z" fill="#9dc34d" fill-opacity="0.6" stroke="#9caf76" stroke-width="0.35" stroke-opacity="0.35"/>
<path d="M372.71 238.38A88.6 88.6 0 0 1 364.57 236.34Q390.1 151.5 331.16 85.35A88.6 88.6 0 0 1 337.65 80.09Q390.1 151.5 372.71 238.38Z" fill="#9dc34d" fill-opacity="0.6" stroke="#9caf76" stroke-width="0.35" stroke-opacity="0.35"/>
<path d="M373.4 238.51A88.6 88.6 0 0 1 372.71 238.38Q390.1 151.5 360.89 67.85A88.6 88.6 0 0 1 361.66 67.59Q390.1 151.5 373.4 238.51Z" fill="#9dc34d" fill-opacity="0.6" stroke="#9caf76" stroke-width="0.35" stroke-opacity="0.35"/>
<path d="M374.78 238.76A88.6 88.6 0 0 1 373.4 238.51Q390.1 151.5 383.35 63.16A88.6 88.6 0 0 1 384.89 63.05Q390.1 151.5 374.78 238.76Z" fill="#9dc34d" fill-opacity="0.6" stroke="#9caf76" stroke-width="0.35" stroke-opacity="0.35"/>
<path d="M379.63 239.48A88.6 88.6 0 0 1 374.78 238.76Q390.1 151.5 416.08 66.79A88.6 88.6 0 0 1 421.21 68.54Q390.1 151.5 379.63 239.48Z" fill="#9dc34d" fill-opacity="0.6" stroke="#9caf76" stroke-width="0.35" stroke-opacity="0.35"/>
<path d="M380.32 239.56A88.6 88.6 0 0 1 379.63 239.48Q390.1 151.5 443.63 80.9A88.6 88.6 0 0 1 444.2 81.34Q390.1 151.5 380.32 239.56Z" fill="#9dc34d" fill-opacity="0.6" stroke="#9caf76" stroke-width="0.35" stroke-opacity="0.35"/>
<path d="M381.16 239.65A88.6 88.6 0 0 1 380.32 239.56Q390.1 151.5 450.92 87.08A88.6 88.6 0 0 1 451.61 87.73Q390.1 151.5 381.16 239.65Z" fill="#9dc34d" fill-opacity="0.6" stroke="#9caf76" stroke-width="0.35" stroke-opacity="0.35"/>
<path d="M382.55 239.78A88.6 88.6 0 0 1 381.16 239.65Q390.1 151.5 459.67 96.64A88.6 88.6 0 0 1 460.44 97.63Q390.1 151.5 382.55 239.78Z" fill="#9dc34d" fill-opacity="0.6" stroke="#9caf76" stroke-width="0.35" stroke-opacity="0.35"/>
<path d="M384.23 239.91A88.6 88.6 0 0 1 382.55 239.78Q390.1 151.5 469.15 111.49A88.6 88.6 0 0 1 469.96 113.13Q390.1 151.5 384.23 239.91Z" fill="#9dc34d" fill-opacity="0.6" stroke="#9caf76" stroke-width="0.35" stroke-opacity="0.35"/>
<path d="M386.32 240.02A88.6 88.6 0 0 1 384.23 239.91Q390.1 151.5 476.38 131.34A88.6 88.6 0 0 1 476.87 133.58Q390.1 151.5 386.32 240.02Z" fill="#9dc34d" fill-opacity="0.6" stroke="#9caf76" stroke-width="0.35" stroke-opacity="0.35"/>
<path d="M387.16 240.05A88.6 88.6 0 0 1 386.32 240.02Q390.1 151.5 478.56 146.47A88.6 88.6 0 0 1 478.6 147.38Q390.1 151.5 387.16 240.05Z" fill="#9dc34d" fill-opacity="0.6" stroke="#9caf76" stroke-width="0.35" stroke-opacity="0.35"/>
<path d="M316.3 200.53A88.6 88.6 0 0 1 312.45 194.17Q390.1 151.5 304.28 129.47A88.6 88.6 0 0 1 306.09 123.34Q390.1 151.5 316.3 200.53Z" fill="#a59984" fill-opacity="0.6" stroke="#a09b90" stroke-width="0.35" stroke-opacity="0.35"/>
<path d="M319.76 205.37A88.6 88.6 0 0 1 316.3 200.53Q390.1 151.5 327.12 89.18A88.6 88.6 0 0 1 331.16 85.35Q390.1 151.5 319.76 205.37Z" fill="#a59984" fill-opacity="0.6" stroke="#a09b90" stroke-width="0.35" stroke-opacity="0.35"/>
<path d="M321.14 207.13A88.6 88.6 0 0 1 319.76 205.37Q390.1 151.5 358.6 68.69A88.6 88.6 0 0 1 360.89 67.85Q390.1 151.5 321.14 207.13Z" fill="#a59984" fill-opacity="0.6" stroke="#a09b90" stroke-width="0.35" stroke-opacity="0.35"/>
<path d="M323.05 209.42A88.6 88.6 0 0 1 321.14 207.13Q390.1 151.5 380.29 63.44A88.6 88.6 0 0 1 383.35 63.16Q390.1 151.5 323.05 209.42Z" fill="#a59984" fill-opacity="0.6" stroke="#a09b90" stroke-width="0.35" stroke-opacity="0.35"/>
<path d="M328.14 214.84A88.6 88.6 0 0 1 323.05 209.42Q390.1 151.5 408.57 64.85A88.6 88.6 0 0 1 416.08 66.79Q390.1 151.5 328.14 214.84Z" fill="#a59984" fill-opacity="0.6" stroke="#a09b90" stroke-width="0.35" stroke-opacity="0.35"/>
<path d="M329.43 216.07A88.6 88.6 0 0 1 328.14 214.84Q390.1 151.5 442.24 79.87A88.6 88.6 0 0 1 443.63 80.9Q390.1 151.5 329.43 216.07Z" fill="#a59984" fill-opacity="0.6" stroke="#a09b90" stroke-width="0.35" stroke-opacity="0.35"/>
<path d="M330.75 217.28A88.6 88.6 0 0 1 329.43 216.07Q390.1 151.5 449.54 85.79A88.6 88.6 0 0 1 450.92 87.08Q390.1 151.5 330.75 217.28Z" fill="#a59984" fill-opacity="0.6" stroke="#a09b90" stroke-width="0.35" stroke-opacity="0.35"/>
<path d="M332.42 218.76A88.6 88.6 0 0 1 330.75 217.28Q390.1 151.5 458.48 95.16A88.6 88.6 0 0 1 459.67 96.64Q390.1 151.5 332.42 218.76Z" fill="#a59984" fill-opacity="0.6" stroke="#a09b90" stroke-width="0.35" stroke-opacity="0.35"/>
<path d="M333.33 219.53A88.6 88.6 0 0 1 332.42 218.76Q390.1 151.5 463.95 102.54A88.6 88.6 0 0 1 464.67 103.65Q390.1 151.5 333.33 219.53Z" fill="#a59984" fill-opacity="0.6" stroke="#a09b90" stroke-width="0.35" stroke-opacity="0.35"/>
<path d="M335.65 221.39A88.6 88.6 0 0 1 333.33 219.53Q390.1 151.5 467.73 108.79A88.6 88.6 0 0 1 469.15 111.49Q390.1 151.5 335.65 221.39Z" fill="#a59984" fill-opacity="0.6" stroke="#a09b90" stroke-width="0.35" stroke-opacity="0.35"/>
<path d="M336.36 221.94A88.6 88.6 0 0 1 335.65 221.39Q390.1 151.5 472.5 118.94A88.6 88.6 0 0 1 472.87 119.88Q390.1 151.5 336.36 221.94Z" fill="#a59984" fill-opacity="0.6" stroke="#a09b90" stroke-width="0.35" stroke-opacity="0.35"/>
<path d="M339.97 224.56A88.6 88.6 0 0 1 336.36 221.94Q390.1 151.5 475.21 126.89A88.6 88.6 0 0 1 476.38 131.34Q390.1 151.5 339.97 224.56Z" fill="#a59984" fill-opacity="0.6" stroke="#a09b90" stroke-width="0.35" stroke-opacity="0.35"/>
<path d="M341.46 225.55A88.6 88.6 0 0 1 339.97 224.56Q390.1 151.5 478.43 144.64A88.6 88.6 0 0 1 478.56 146.47Q390.1 151.5 341.46 225.55Z" fill="#a59984" fill-opacity="0.6" stroke="#a09b90" stroke-width="0.35" stroke-opacity="0.35"/>
<path d="M301.5 151.49A88.6 88.6 0 0 1 301.51 150.43Q390.1 151.5 326.54 89.78A88.6 88.6 0 0 1 327.12 89.18Q390.1 151.5 301.5 151.49Z" fill="#e99621" fill-opacity="0.6" stroke="#c19961" stroke-width="0.35" stroke-opacity="0.35"/>
<path d="M301.52 153.25A88.6 88.6 0 0 1 301.5 151.49Q390.1 151.5 407.05 64.54A88.6 88.6 0 0 1 408.57 64.85Q390.1 151.5 301.52 153.25Z" fill="#e99621" fill-opacity="0.6" stroke="#c19961" stroke-width="0.35" stroke-opacity="0.35"/>
<path d="M301.54 154.13A88.6 88.6 0 0 1 301.52 153.25Q390.1 151.5 478.37 143.89A88.6 88.6 0 0 1 478.43 144.64Q390.1 151.5 301.54 154.13Z" fill="#e99621" fill-opacity="0.6" stroke="#c19961" stroke-width="0.35" stroke-opacity="0.35"/>
<path d="M303.41 133.21A88.6 88.6 0 0 1 304.28 129.47Q390.1 151.5 323.7 92.84A88.6 88.6 0 0 1 326.54 89.78Q390.1 151.5 303.41 133.21Z" fill="#008c25" fill-opacity="0.6" stroke="#499463" stroke-width="0.35" stroke-opacity="0.35"/>
<path d="M303.28 133.83A88.6 88.6 0 0 1 303.41 133.21Q390.1 151.5 357.84 68.98A88.6 88.6 0 0 1 358.6 68.69Q390.1 151.5 303.28 133.83Z" fill="#008c25" fill-opacity="0.6" stroke="#499463" stroke-width="0.35" stroke-opacity="0.35"/>
<path d="M303.03 135.09A88.6 88.6 0 0 1 303.28 133.83Q390.1 151.5 378.77 63.63A88.6 88.6 0 0 1 380.29 63.44Q390.1 151.5 303.03 135.09Z" fill="#008c25" fill-opacity="0.6" stroke="#499463" stroke-width="0.35" stroke-opacity="0.35"/>
<path d="M302.46 138.49A88.6 88.6 0 0 1 303.03 135.09Q390.1 151.5 402.92 63.83A88.6 88.6 0 0 1 407.05 64.54Q390.1 151.5 302.46 138.49Z" fill="#008c25" fill-opacity="0.6" stroke="#499463" stroke-width="0.35" stroke-opacity="0.35"/>
<path d="M302.32 139.51A88.6 88.6 0 0 1 302.46 138.49Q390.1 151.5 441.3 79.19A88.6 88.6 0 0 1 442.24 79.87Q390.1 151.5 302.32 139.51Z" fill="#008c25" fill-opacity="0.6" stroke="#499463" stroke-width="0.35" stroke-opacity="0.35"/>
<path d="M302.15 140.78A88.6 88.6 0 0 1 302.32 139.51Q390.1 151.5 448.36 84.75A88.6 88.6 0 0 1 449.54 85.79Q390.1 151.5 302.15 140.78Z" fill="#008c25" fill-opacity="0.6" stroke="#499463" stroke-width="0.35" stroke-opacity="0.35"/>
<path d="M301.98 142.3A88.6 88.6 0 0 1 302.15 140.78Q390.1 151.5 457.51 94A88.6 88.6 0 0 1 458.48 95.16Q390.1 151.5 301.98 142.3Z" fill="#008c25" fill-opacity="0.6" stroke="#499463" stroke-width="0.35" stroke-opacity="0.35"/>
<path d="M301.91 142.94A88.6 88.6 0 0 1 301.98 142.3Q390.1 151.5 463.48 101.85A88.6 88.6 0 0 1 463.95 102.54Q390.1 151.5 301.91 142.94Z" fill="#008c25" fill-opacity="0.6" stroke="#499463" stroke-width="0.35" stroke-opacity="0.35"/>
<path d="M301.82 143.96A88.6 88.6 0 0 1 301.91 142.94Q390.1 151.5 467.13 107.73A88.6 88.6 0 0 1 467.73 108.79Q390.1 151.5 301.82 143.96Z" fill="#008c25" fill-opacity="0.6" stroke="#499463" stroke-width="0.35" stroke-opacity="0.35"/>
<path d="M301.7 145.49A88.6 88.6 0 0 1 301.82 143.96Q390.1 151.5 474.69 125.13A88.6 88.6 0 0 1 475.21 126.89Q390.1 151.5 301.7 145.49Z" fill="#008c25" fill-opacity="0.6" stroke="#499463" stroke-width="0.35" stroke-opacity="0.35"/>
<path d="M301.61 147.02A88.6 88.6 0 0 1 301.7 145.49Q390.1 151.5 478.2 142.07A88.6 88.6 0 0 1 478.37 143.89Q390.1 151.5 301.61 147.02Z" fill="#008c25" fill-opacity="0.6" stroke="#499463" stroke-width="0.35" stroke-opacity="0.35"/>
<path d="M322.79 93.89A88.6 88.6 0 0 1 323.7 92.84Q390.1 151.5 356.34 69.59A88.6 88.6 0 0 1 357.84 68.98Q390.1 151.5 322.79 93.89Z" fill="#4461aa" fill-opacity="0.6" stroke="#7280a3" stroke-width="0.35" stroke-opacity="0.35"/>
<path d="M321.01 96.03A88.6 88.6 0 0 1 322.79 93.89Q390.1 151.5 375.73 64.07A88.6 88.6 0 0 1 378.77 63.63Q390.1 151.5 321.01 96.03Z" fill="#4461aa" fill-opacity="0.6" stroke="#7280a3" stroke-width="0.35" stroke-opacity="0.35"/>
<path d="M318.72 99.01A88.6 88.6 0 0 1 321.01 96.03Q390.1 151.5 398.76 63.32A88.6 88.6 0 0 1 402.92 63.83Q390.1 151.5 318.72 99.01Z" fill="#4461aa" fill-opacity="0.6" stroke="#7280a3" stroke-width="0.35" stroke-opacity="0.35"/>
<path d="M318.31 99.57A88.6 88.6 0 0 1 318.72 99.01Q390.1 151.5 440.71 78.78A88.6 88.6 0 0 1 441.3 79.19Q390.1 151.5 318.31 99.57Z" fill="#4461aa" fill-opacity="0.6" stroke="#7280a3" stroke-width="0.35" stroke-opacity="0.35"/>
<path d="M317.91 100.14A88.6 88.6 0 0 1 318.31 99.57Q390.1 151.5 447.76 84.23A88.6 88.6 0 0 1 448.36 84.75Q390.1 151.5 317.91 100.14Z" fill="#4461aa" fill-opacity="0.6" stroke="#7280a3" stroke-width="0.35" stroke-opacity="0.35"/>
<path d="M317.27 101.05A88.6 88.6 0 0 1 317.91 100.14Q390.1 151.5 456.84 93.23A88.6 88.6 0 0 1 457.51 94Q390.1 151.5 317.27 101.05Z" fill="#4461aa" fill-opacity="0.6" stroke="#7280a3" stroke-width="0.35" stroke-opacity="0.35"/>
<path d="M317.03 101.39A88.6 88.6 0 0 1 317.27 101.05Q390.1 151.5 463.21 101.44A88.6 88.6 0 0 1 463.48 101.85Q390.1 151.5 317.03 101.39Z" fill="#4461aa" fill-opacity="0.6" stroke="#7280a3" stroke-width="0.35" stroke-opacity="0.35"/>
<path d="M316.64 101.97A88.6 88.6 0 0 1 317.03 101.39Q390.1 151.5 466.75 107.07A88.6 88.6 0 0 1 467.13 107.73Q390.1 151.5 316.64 101.97Z" fill="#4461aa" fill-opacity="0.6" stroke="#7280a3" stroke-width="0.35" stroke-opacity="0.35"/>
<path d="M316.02 102.9A88.6 88.6 0 0 1 316.64 101.97Q390.1 151.5 474.31 123.97A88.6 88.6 0 0 1 474.69 125.13Q390.1 151.5 316.02 102.9Z" fill="#4461aa" fill-opacity="0.6" stroke="#7280a3" stroke-width="0.35" stroke-opacity="0.35"/>
<path d="M315.79 103.24A88.6 88.6 0 0 1 316.02 102.9Q390.1 151.5 478.15 141.62A88.6 88.6 0 0 1 478.2 142.07Q390.1 151.5 315.79 103.24Z" fill="#4461aa" fill-opacity="0.6" stroke="#7280a3" stroke-width="0.35" stroke-opacity="0.35"/>
<path d="M372.25 64.72A88.6 88.6 0 0 1 375.73 64.07Q390.1 151.5 395.21 63.05A88.6 88.6 0 0 1 398.76 63.32Q390.1 151.5 372.25 64.72Z" fill="#2b9d6e" fill-opacity="0.6" stroke="#669c86" stroke-width="0.35" stroke-opacity="0.35"/>
<path d="M371.35 64.91A88.6 88.6 0 0 1 372.25 64.72Q390.1 151.5 440 78.29A88.6 88.6 0 0 1 440.71 78.78Q390.1 151.5 371.35 64.91Z" fill="#2b9d6e" fill-opacity="0.6" stroke="#669c86" stroke-width="0.35" stroke-opacity="0.35"/>
<path d="M368.36 65.61A88.6 88.6 0 0 1 371.35 64.91Q390.1 151.5 455.16 91.35A88.6 88.6 0 0 1 456.84 93.23Q390.1 151.5 368.36 65.61Z" fill="#2b9d6e" fill-opacity="0.6" stroke="#669c86" stroke-width="0.35" stroke-opacity="0.35"/>
<path d="M367.76 65.76A88.6 88.6 0 0 1 368.36 65.61Q390.1 151.5 472.25 118.31A88.6 88.6 0 0 1 472.5 118.94Q390.1 151.5 367.76 65.76Z" fill="#2b9d6e" fill-opacity="0.6" stroke="#669c86" stroke-width="0.35" stroke-opacity="0.35"/>
<path d="M367.32 65.88A88.6 88.6 0 0 1 367.76 65.76Q390.1 151.5 478.09 141.16A88.6 88.6 0 0 1 478.15 141.62Q390.1 151.5 367.32 65.88Z" fill="#2b9d6e" fill-opacity="0.6" stroke="#669c86" stroke-width="0.35" stroke-opacity="0.35"/>
<path d="M394.74 63.02A88.6 88.6 0 0 1 395.21 63.05Q390.1 151.5 439.64 78.05A88.6 88.6 0 0 1 440 78.29Q390.1 151.5 394.74 63.02Z" fill="#be5761" fill-opacity="0.6" stroke="#ac7b80" stroke-width="0.35" stroke-opacity="0.35"/>
<path d="M394.28 63A88.6 88.6 0 0 1 394.74 63.02Q390.1 151.5 447.41 83.93A88.6 88.6 0 0 1 447.76 84.23Q390.1 151.5 394.28 63Z" fill="#be5761" fill-opacity="0.6" stroke="#ac7b80" stroke-width="0.35" stroke-opacity="0.35"/>
<path d="M393.81 62.98A88.6 88.6 0 0 1 394.28 63Q390.1 151.5 454.9 91.07A88.6 88.6 0 0 1 455.16 91.35Q390.1 151.5 393.81 62.98Z" fill="#be5761" fill-opacity="0.6" stroke="#ac7b80" stroke-width="0.35" stroke-opacity="0.35"/>
<path d="M393.04 62.95A88.6 88.6 0 0 1 393.81 62.98Q390.1 151.5 474.07 123.24A88.6 88.6 0 0 1 474.31 123.97Q390.1 151.5 393.04 62.95Z" fill="#be5761" fill-opacity="0.6" stroke="#ac7b80" stroke-width="0.35" stroke-opacity="0.35"/>
<path d="M481.7 151.66A91.6 91.6 0 0 1 389.78 243.1" fill="none" stroke="#b0122a" stroke-width="2.4"/>
<path d="M387.06 243.05A91.6 91.6 0 0 1 342.1 229.52" fill="none" stroke="#8cc040" stroke-width="2.4"/>
<path d="M339.81 228.06A91.6 91.6 0 0 1 298.61 155.97" fill="none" stroke="#7d7260" stroke-width="2.4"/>
<path d="M298.54 154.22A91.6 91.6 0 0 1 298.54 148.94" fill="none" stroke="#d0a040" stroke-width="2.4"/>
<path d="M298.62 146.87A91.6 91.6 0 0 1 308.34 110.2" fill="none" stroke="#0e6a30" stroke-width="2.4"/>
<path d="M309.37 108.21A91.6 91.6 0 0 1 312 103.64" fill="none" stroke="#e096c0" stroke-width="2.4"/>
<path d="M313.28 101.61A91.6 91.6 0 0 1 353.28 67.63" fill="none" stroke="#1d2f78" stroke-width="2.4"/>
<path d="M355.19 66.81A91.6 91.6 0 0 1 364.7 63.49" fill="none" stroke="#2a2470" stroke-width="2.4"/>
<path d="M366.55 62.98A91.6 91.6 0 0 1 391.06 59.91" fill="none" stroke="#1a7a50" stroke-width="2.4"/>
<path d="M393.14 59.95A91.6 91.6 0 0 1 440.12 74.76" fill="none" stroke="#8a1a2a" stroke-width="2.4"/>
<path d="M441.32 75.56A91.6 91.6 0 0 1 448.36 80.82" fill="none" stroke="#8a7a9e" stroke-width="2.4"/>
<path d="M449.35 81.64A91.6 91.6 0 0 1 455.99 87.87" fill="none" stroke="#8a5030" stroke-width="2.4"/>
<path d="M457.09 89.03A91.6 91.6 0 0 1 464.77 98.44" fill="none" stroke="#1a9aa0" stroke-width="2.4"/>
<path d="M465.68 99.75A91.6 91.6 0 0 1 468.29 103.78" fill="none" stroke="#2ab0b0" stroke-width="2.4"/>
<path d="M469.35 105.56A91.6 91.6 0 0 1 474.29 115.41" fill="none" stroke="#e8a030" stroke-width="2.4"/>
<path d="M475.03 117.19A91.6 91.6 0 0 1 476.39 120.77" fill="none" stroke="#c03080" stroke-width="2.4"/>
<path d="M476.92 122.28A91.6 91.6 0 0 1 480.76 138.44" fill="none" stroke="#a0a0a0" stroke-width="2.4"/>
<path d="M481.07 140.81A91.6 91.6 0 0 1 481.69 150.38" fill="none" stroke="#20b0b0" stroke-width="2.4"/>
<text x="459.07" y="220.84" dy="1.3" transform="rotate(45.15 459.07 220.84)" text-anchor="start">TP53</text>
<text x="361.91" y="245.15" dy="1.3" transform="rotate(-73.25 361.91 245.15)" text-anchor="end">CALR</text>
<text x="305.19" y="200.03" dy="1.3" transform="rotate(-29.75 305.19 200.03)" text-anchor="end">JAK2</text>
<text x="292.3" y="151.59" dy="1.3" transform="rotate(-0.05 292.3 151.59)" text-anchor="end">MPL</text>
<text x="295.57" y="126.43" dy="1.3" transform="rotate(14.85 295.57 126.43)" text-anchor="end">SRSF2</text>
<text x="305.27" y="102.82" dy="1.3" transform="rotate(29.85 305.27 102.82)" text-anchor="end">SF3B1</text>
<text x="326.78" y="76.97" dy="1.3" transform="rotate(49.65 326.78 76.97)" text-anchor="end">ASXL1</text>
<text x="357.86" y="59.17" dy="1.3" transform="rotate(70.75 357.86 59.17)" text-anchor="end">EZH2</text>
<text x="377.93" y="54.46" dy="1.3" transform="rotate(82.85 377.93 54.46)" text-anchor="end">DNMT3A</text>
<text x="419.51" y="58.23" dy="1.3" transform="rotate(287.5 419.51 58.23)" text-anchor="start">TET2</text>
<text x="448.62" y="73.14" dy="1.3" transform="rotate(306.75 448.62 73.14)" text-anchor="start">NRAS</text>
<text x="456.99" y="80.15" dy="1.3" transform="rotate(313.15 456.99 80.15)" text-anchor="start">KRAS</text>
<text x="465.89" y="89.69" dy="1.3" transform="rotate(320.8 465.89 89.69)" text-anchor="start">IDH2</text>
<text x="472.21" y="98.38" dy="1.3" transform="rotate(327.1 472.21 98.38)" text-anchor="start">CBL</text>
<text x="477.51" y="107.63" dy="1.3" transform="rotate(333.35 477.51 107.63)" text-anchor="start">IKZF1</text>
<text x="481.53" y="116.77" dy="1.3" transform="rotate(339.2 481.53 116.77)" text-anchor="start">FLT3</text>
<text x="485.24" y="128.84" dy="1.3" transform="rotate(346.6 485.24 128.84)" text-anchor="start">SH2B3</text>
<text x="487.7" y="145.19" dy="1.3" transform="rotate(356.3 487.7 145.19)" text-anchor="start">RUNX1</text>
</g>
<g font-size="11.4" font-weight="bold" fill="#111">
<text x="6.6" y="15.8">A</text><text x="273.6" y="15.9">B</text><text x="6.4" y="294">C</text><text x="273.6" y="294">D</text>
</g>
<line x1="34.7" y1="320" x2="34.7" y2="438.2" stroke="#222" stroke-width="1"/>
<line x1="34.2" y1="437.7" x2="241.7" y2="437.7" stroke="#222" stroke-width="1"/>
<line x1="31.8" y1="437.7" x2="34.7" y2="437.7" stroke="#222" stroke-width="0.8"/>
<text x="28.9" y="437.7" text-anchor="end" dominant-baseline="central" font-size="7.6" fill="#2b2b2b" stroke="#2b2b2b" stroke-width="0.12">0</text>
<line x1="31.8" y1="418.45" x2="34.7" y2="418.45" stroke="#222" stroke-width="0.8"/>
<text x="28.9" y="418.45" text-anchor="end" dominant-baseline="central" font-size="7.6" fill="#2b2b2b" stroke="#2b2b2b" stroke-width="0.12">0,1</text>
<line x1="31.8" y1="399.2" x2="34.7" y2="399.2" stroke="#222" stroke-width="0.8"/>
<text x="28.9" y="399.2" text-anchor="end" dominant-baseline="central" font-size="7.6" fill="#2b2b2b" stroke="#2b2b2b" stroke-width="0.12">0,2</text>
<line x1="31.8" y1="379.95" x2="34.7" y2="379.95" stroke="#222" stroke-width="0.8"/>
<text x="28.9" y="379.95" text-anchor="end" dominant-baseline="central" font-size="7.6" fill="#2b2b2b" stroke="#2b2b2b" stroke-width="0.12">0,3</text>
<line x1="31.8" y1="360.7" x2="34.7" y2="360.7" stroke="#222" stroke-width="0.8"/>
<text x="28.9" y="360.7" text-anchor="end" dominant-baseline="central" font-size="7.6" fill="#2b2b2b" stroke="#2b2b2b" stroke-width="0.12">0,4</text>
<line x1="31.8" y1="341.45" x2="34.7" y2="341.45" stroke="#222" stroke-width="0.8"/>
<text x="28.9" y="341.45" text-anchor="end" dominant-baseline="central" font-size="7.6" fill="#2b2b2b" stroke="#2b2b2b" stroke-width="0.12">0,5</text>
<line x1="31.8" y1="322.2" x2="34.7" y2="322.2" stroke="#222" stroke-width="0.8"/>
<text x="28.9" y="322.2" text-anchor="end" dominant-baseline="central" font-size="7.6" fill="#2b2b2b" stroke="#2b2b2b" stroke-width="0.12">0,6</text>
<rect x="37.1" y="343.38" width="2.1" height="94.33" fill="#4696c8"/>
<rect x="40.2" y="326.05" width="2.0" height="111.65" fill="#e68a1e"/>
<line x1="39.3" y1="437.7" x2="39.3" y2="440.4" stroke="#222" stroke-width="0.8"/>
<text x="41.9" y="447.2" transform="rotate(-45 41.9 447.2)" text-anchor="end" font-size="7.6" fill="#2b2b2b" stroke="#2b2b2b" stroke-width="0.12">JAK2</text>
<rect x="48.09" y="385.72" width="2.1" height="51.98" fill="#4696c8"/>
<rect x="51.19" y="399.58" width="2.0" height="38.12" fill="#e68a1e"/>
<line x1="50.29" y1="437.7" x2="50.29" y2="440.4" stroke="#222" stroke-width="0.8"/>
<text x="52.89" y="447.2" transform="rotate(-45 52.89 447.2)" text-anchor="end" font-size="7.6" fill="#2b2b2b" stroke="#2b2b2b" stroke-width="0.12">CALR</text>
<rect x="59.08" y="434.24" width="2.1" height="3.46" fill="#4696c8"/>
<rect x="62.18" y="428.27" width="2.0" height="9.43" fill="#e68a1e"/>
<line x1="61.28" y1="437.7" x2="61.28" y2="440.4" stroke="#222" stroke-width="0.8"/>
<text x="63.88" y="447.2" transform="rotate(-45 63.88 447.2)" text-anchor="end" font-size="7.6" fill="#2b2b2b" stroke="#2b2b2b" stroke-width="0.12">MPL</text>
<rect x="70.07" y="395.35" width="2.1" height="42.35" fill="#4696c8"/>
<rect x="73.17" y="380.33" width="2.0" height="57.36" fill="#e68a1e"/>
<line x1="72.27" y1="437.7" x2="72.27" y2="440.4" stroke="#222" stroke-width="0.8"/>
<text x="74.87" y="447.2" transform="rotate(-45 74.87 447.2)" text-anchor="end" font-size="7.6" fill="#2b2b2b" stroke="#2b2b2b" stroke-width="0.12">ASXL1</text>
<rect x="81.06" y="430.58" width="2.1" height="7.12" fill="#4696c8"/>
<rect x="84.16" y="426.53" width="2.0" height="11.17" fill="#e68a1e"/>
<line x1="83.26" y1="437.7" x2="83.26" y2="440.4" stroke="#222" stroke-width="0.8"/>
<text x="85.86" y="447.2" transform="rotate(-45 85.86 447.2)" text-anchor="end" font-size="7.6" fill="#2b2b2b" stroke="#2b2b2b" stroke-width="0.12">U2AF1</text>
<rect x="92.05" y="413.25" width="2.1" height="24.45" fill="#4696c8"/>
<rect x="95.15" y="418.45" width="2.0" height="19.25" fill="#e68a1e"/>
<line x1="94.25" y1="437.7" x2="94.25" y2="440.4" stroke="#222" stroke-width="0.8"/>
<text x="96.85" y="447.2" transform="rotate(-45 96.85 447.2)" text-anchor="end" font-size="7.6" fill="#2b2b2b" stroke="#2b2b2b" stroke-width="0.12">SRSF2</text>
<rect x="103.04" y="426.53" width="2.1" height="11.17" fill="#4696c8"/>
<rect x="106.14" y="424.61" width="2.0" height="13.09" fill="#e68a1e"/>
<line x1="105.24" y1="437.7" x2="105.24" y2="440.4" stroke="#222" stroke-width="0.8"/>
<text x="107.84" y="447.2" transform="rotate(-45 107.84 447.2)" text-anchor="end" font-size="7.6" fill="#2b2b2b" stroke="#2b2b2b" stroke-width="0.12">SF3B1</text>
<rect x="117.13" y="431.93" width="2.0" height="5.77" fill="#e68a1e"/>
<line x1="116.23" y1="437.7" x2="116.23" y2="440.4" stroke="#222" stroke-width="0.8"/>
<text x="118.83" y="447.2" transform="rotate(-45 118.83 447.2)" text-anchor="end" font-size="7.6" fill="#2b2b2b" stroke="#2b2b2b" stroke-width="0.12">IDH1</text>
<rect x="125.02" y="430.58" width="2.1" height="7.12" fill="#4696c8"/>
<rect x="128.12" y="431.93" width="2.0" height="5.77" fill="#e68a1e"/>
<line x1="127.22" y1="437.7" x2="127.22" y2="440.4" stroke="#222" stroke-width="0.8"/>
<text x="129.82" y="447.2" transform="rotate(-45 129.82 447.2)" text-anchor="end" font-size="7.6" fill="#2b2b2b" stroke="#2b2b2b" stroke-width="0.12">IDH2</text>
<rect x="136.01" y="430.58" width="2.1" height="7.12" fill="#4696c8"/>
<rect x="139.11" y="433.85" width="2.0" height="3.85" fill="#e68a1e"/>
<line x1="138.21" y1="437.7" x2="138.21" y2="440.4" stroke="#222" stroke-width="0.8"/>
<text x="140.81" y="447.2" transform="rotate(-45 140.81 447.2)" text-anchor="end" font-size="7.6" fill="#2b2b2b" stroke="#2b2b2b" stroke-width="0.12">CBL</text>
<rect x="147" y="418.45" width="2.1" height="19.25" fill="#4696c8"/>
<rect x="150.1" y="424.22" width="2.0" height="13.48" fill="#e68a1e"/>
<line x1="149.2" y1="437.7" x2="149.2" y2="440.4" stroke="#222" stroke-width="0.8"/>
<text x="151.8" y="447.2" transform="rotate(-45 151.8 447.2)" text-anchor="end" font-size="7.6" fill="#2b2b2b" stroke="#2b2b2b" stroke-width="0.12" textLength="33.5" lengthAdjust="spacingAndGlyphs">DNMT3A</text>
<rect x="157.99" y="399.2" width="2.1" height="38.5" fill="#4696c8"/>
<rect x="161.09" y="404.97" width="2.0" height="32.73" fill="#e68a1e"/>
<line x1="160.19" y1="437.7" x2="160.19" y2="440.4" stroke="#222" stroke-width="0.8"/>
<text x="162.79" y="447.2" transform="rotate(-45 162.79 447.2)" text-anchor="end" font-size="7.6" fill="#2b2b2b" stroke="#2b2b2b" stroke-width="0.12">TET2</text>
<rect x="168.98" y="430" width="2.1" height="7.7" fill="#4696c8"/>
<rect x="172.08" y="430" width="2.0" height="7.7" fill="#e68a1e"/>
<line x1="171.18" y1="437.7" x2="171.18" y2="440.4" stroke="#222" stroke-width="0.8"/>
<text x="173.78" y="447.2" transform="rotate(-45 173.78 447.2)" text-anchor="end" font-size="7.6" fill="#2b2b2b" stroke="#2b2b2b" stroke-width="0.12">EZH2</text>
<rect x="183.07" y="432.89" width="2.0" height="4.81" fill="#e68a1e"/>
<line x1="182.17" y1="437.7" x2="182.17" y2="440.4" stroke="#222" stroke-width="0.8"/>
<text x="184.77" y="447.2" transform="rotate(-45 184.77 447.2)" text-anchor="end" font-size="7.6" fill="#2b2b2b" stroke="#2b2b2b" stroke-width="0.12">IKZF1</text>
<rect x="190.96" y="433.85" width="2.1" height="3.85" fill="#4696c8"/>
<rect x="194.06" y="430.77" width="2.0" height="6.93" fill="#e68a1e"/>
<line x1="193.16" y1="437.7" x2="193.16" y2="440.4" stroke="#222" stroke-width="0.8"/>
<text x="195.76" y="447.2" transform="rotate(-45 195.76 447.2)" text-anchor="end" font-size="7.6" fill="#2b2b2b" stroke="#2b2b2b" stroke-width="0.12">NRAS</text>
<rect x="201.95" y="432.89" width="2.1" height="4.81" fill="#4696c8"/>
<rect x="205.05" y="432.89" width="2.0" height="4.81" fill="#e68a1e"/>
<line x1="204.15" y1="437.7" x2="204.15" y2="440.4" stroke="#222" stroke-width="0.8"/>
<text x="206.75" y="447.2" transform="rotate(-45 206.75 447.2)" text-anchor="end" font-size="7.6" fill="#2b2b2b" stroke="#2b2b2b" stroke-width="0.12">KRAS</text>
<rect x="212.94" y="432.89" width="2.1" height="4.81" fill="#4696c8"/>
<rect x="216.04" y="432.89" width="2.0" height="4.81" fill="#e68a1e"/>
<line x1="215.14" y1="437.7" x2="215.14" y2="440.4" stroke="#222" stroke-width="0.8"/>
<text x="217.74" y="447.2" transform="rotate(-45 217.74 447.2)" text-anchor="end" font-size="7.6" fill="#2b2b2b" stroke="#2b2b2b" stroke-width="0.12">FLT3</text>
<rect x="223.93" y="416.91" width="2.1" height="20.79" fill="#4696c8"/>
<rect x="227.03" y="435.39" width="2.0" height="2.31" fill="#e68a1e"/>
<line x1="226.13" y1="437.7" x2="226.13" y2="440.4" stroke="#222" stroke-width="0.8"/>
<text x="228.73" y="447.2" transform="rotate(-45 228.73 447.2)" text-anchor="end" font-size="7.6" fill="#2b2b2b" stroke="#2b2b2b" stroke-width="0.12">SH2B3</text>
<rect x="234.92" y="432.89" width="2.1" height="4.81" fill="#4696c8"/>
<rect x="238.02" y="428.84" width="2.0" height="8.86" fill="#e68a1e"/>
<line x1="237.12" y1="437.7" x2="237.12" y2="440.4" stroke="#222" stroke-width="0.8"/>
<text x="239.72" y="447.2" transform="rotate(-45 239.72 447.2)" text-anchor="end" font-size="7.6" fill="#2b2b2b" stroke="#2b2b2b" stroke-width="0.12">RUNX1</text>
<rect x="186.3" y="310.4" width="5.2" height="4.8" fill="#3a9ad8"/><rect x="186.3" y="317.4" width="5.2" height="4.8" fill="#ee8a1c"/>
<text x="195" y="314.6" font-size="7" fill="#333" stroke="#333" stroke-width="0.1">TP53</text><text x="195" y="321.8" font-size="7" fill="#333" stroke="#333" stroke-width="0.1">non-TP53</text>
<line x1="325.6" y1="299.6" x2="325.6" y2="438" stroke="#222" stroke-width="1"/>
<line x1="325.1" y1="437.5" x2="472.7" y2="437.5" stroke="#222" stroke-width="1"/>
<line x1="322.8" y1="302.4" x2="325.6" y2="302.4" stroke="#222" stroke-width="1"/>
<text x="319.8" y="302.4" text-anchor="end" dominant-baseline="central" font-size="7.4" font-style="italic" fill="#2b2b2b" stroke="#2b2b2b" stroke-width="0.12">HMR</text>
<rect x="356.81" y="301.3" width="41.99" height="2.2" fill="#40a036"/>
<rect x="398.8" y="301.3" width="42.35" height="2.2" fill="#1c4282"/>
<line x1="322.8" y1="310.08" x2="325.6" y2="310.08" stroke="#222" stroke-width="1"/>
<text x="319.8" y="310.08" text-anchor="end" dominant-baseline="central" font-size="7.4" font-style="italic" fill="#2b2b2b" stroke="#2b2b2b" stroke-width="0.12">RUNX1</text>
<rect x="394.56" y="308.98" width="4.24" height="2.2" fill="#40a036"/>
<line x1="322.8" y1="317.76" x2="325.6" y2="317.76" stroke="#222" stroke-width="1"/>
<text x="319.8" y="317.76" text-anchor="end" dominant-baseline="central" font-size="7.4" font-style="italic" fill="#2b2b2b" stroke="#2b2b2b" stroke-width="0.12">SH2B3</text>
<rect x="388.51" y="316.66" width="10.29" height="2.2" fill="#40a036"/>
<rect x="398.8" y="316.66" width="15.49" height="2.2" fill="#1c4282"/>
<line x1="322.8" y1="325.44" x2="325.6" y2="325.44" stroke="#222" stroke-width="1"/>
<text x="319.8" y="325.44" text-anchor="end" dominant-baseline="central" font-size="7.4" font-style="italic" fill="#2b2b2b" stroke="#2b2b2b" stroke-width="0.12">FLT3</text>
<rect x="398.8" y="324.34" width="8.23" height="2.2" fill="#1c4282"/>
<line x1="322.8" y1="333.12" x2="325.6" y2="333.12" stroke="#222" stroke-width="1"/>
<text x="319.8" y="333.12" text-anchor="end" dominant-baseline="central" font-size="7.4" font-style="italic" fill="#2b2b2b" stroke="#2b2b2b" stroke-width="0.12">KRAS</text>
<rect x="394.56" y="332.02" width="4.24" height="2.2" fill="#40a036"/>
<line x1="322.8" y1="340.8" x2="325.6" y2="340.8" stroke="#222" stroke-width="1"/>
<text x="319.8" y="340.8" text-anchor="end" dominant-baseline="central" font-size="7.4" font-style="italic" fill="#2b2b2b" stroke="#2b2b2b" stroke-width="0.12">NRAS</text>
<rect x="394.56" y="339.7" width="4.24" height="2.2" fill="#40a036"/>
<line x1="322.8" y1="348.48" x2="325.6" y2="348.48" stroke="#222" stroke-width="1"/>
<text x="319.8" y="348.48" text-anchor="end" dominant-baseline="central" font-size="7.4" font-style="italic" fill="#2b2b2b" stroke="#2b2b2b" stroke-width="0.12">EZH2</text>
<rect x="395.65" y="347.38" width="3.15" height="2.2" fill="#40a036"/>
<rect x="398.8" y="347.38" width="6.05" height="2.2" fill="#1c4282"/>
<line x1="322.8" y1="356.16" x2="325.6" y2="356.16" stroke="#222" stroke-width="1"/>
<text x="319.8" y="356.16" text-anchor="end" dominant-baseline="central" font-size="7.4" font-style="italic" fill="#2b2b2b" stroke="#2b2b2b" stroke-width="0.12">TET2</text>
<rect x="370.97" y="355.06" width="27.83" height="2.2" fill="#40a036"/>
<rect x="398.8" y="355.06" width="19.36" height="2.2" fill="#1c4282"/>
<line x1="322.8" y1="363.84" x2="325.6" y2="363.84" stroke="#222" stroke-width="1"/>
<text x="319.8" y="363.84" text-anchor="end" dominant-baseline="central" font-size="7.4" font-style="italic" fill="#2b2b2b" stroke="#2b2b2b" stroke-width="0.12" textLength="33" lengthAdjust="spacingAndGlyphs">DNMT3A</text>
<rect x="378.59" y="362.74" width="20.21" height="2.2" fill="#40a036"/>
<line x1="322.8" y1="371.52" x2="325.6" y2="371.52" stroke="#222" stroke-width="1"/>
<text x="319.8" y="371.52" text-anchor="end" dominant-baseline="central" font-size="7.4" font-style="italic" fill="#2b2b2b" stroke="#2b2b2b" stroke-width="0.12">CBL</text>
<rect x="395.29" y="370.42" width="3.51" height="2.2" fill="#40a036"/>
<rect x="398.8" y="370.42" width="6.05" height="2.2" fill="#1c4282"/>
<line x1="322.8" y1="379.2" x2="325.6" y2="379.2" stroke="#222" stroke-width="1"/>
<text x="319.8" y="379.2" text-anchor="end" dominant-baseline="central" font-size="7.4" font-style="italic" fill="#2b2b2b" stroke="#2b2b2b" stroke-width="0.12">IDH2</text>
<rect x="395.29" y="378.1" width="3.51" height="2.2" fill="#40a036"/>
<rect x="398.8" y="378.1" width="6.05" height="2.2" fill="#1c4282"/>
<line x1="322.8" y1="386.88" x2="325.6" y2="386.88" stroke="#222" stroke-width="1"/>
<text x="319.8" y="386.88" text-anchor="end" dominant-baseline="central" font-size="7.4" font-style="italic" fill="#2b2b2b" stroke="#2b2b2b" stroke-width="0.12">SF3B1</text>
<rect x="386.7" y="385.78" width="12.1" height="2.2" fill="#40a036"/>
<line x1="322.8" y1="394.56" x2="325.6" y2="394.56" stroke="#222" stroke-width="1"/>
<text x="319.8" y="394.56" text-anchor="end" dominant-baseline="central" font-size="7.4" font-style="italic" fill="#2b2b2b" stroke="#2b2b2b" stroke-width="0.12">SRSF2</text>
<rect x="378.23" y="393.46" width="20.57" height="2.2" fill="#40a036"/>
<rect x="398.8" y="393.46" width="7.26" height="2.2" fill="#1c4282"/>
<line x1="322.8" y1="402.24" x2="325.6" y2="402.24" stroke="#222" stroke-width="1"/>
<text x="319.8" y="402.24" text-anchor="end" dominant-baseline="central" font-size="7.4" font-style="italic" fill="#2b2b2b" stroke="#2b2b2b" stroke-width="0.12">U2AF1</text>
<rect x="398.8" y="401.14" width="13.31" height="2.2" fill="#1c4282"/>
<line x1="322.8" y1="409.92" x2="325.6" y2="409.92" stroke="#222" stroke-width="1"/>
<text x="319.8" y="409.92" text-anchor="end" dominant-baseline="central" font-size="7.4" font-style="italic" fill="#2b2b2b" stroke="#2b2b2b" stroke-width="0.12">ASXL1</text>
<rect x="374.6" y="408.82" width="24.2" height="2.2" fill="#40a036"/>
<rect x="398.8" y="408.82" width="31.46" height="2.2" fill="#1c4282"/>
<line x1="322.8" y1="417.6" x2="325.6" y2="417.6" stroke="#222" stroke-width="1"/>
<text x="319.8" y="417.6" text-anchor="end" dominant-baseline="central" font-size="7.4" font-style="italic" fill="#2b2b2b" stroke="#2b2b2b" stroke-width="0.12">MPL</text>
<rect x="390.33" y="416.5" width="8.47" height="2.2" fill="#40a036"/>
<rect x="398.8" y="416.5" width="6.05" height="2.2" fill="#1c4282"/>
<line x1="322.8" y1="425.28" x2="325.6" y2="425.28" stroke="#222" stroke-width="1"/>
<text x="319.8" y="425.28" text-anchor="end" dominant-baseline="central" font-size="7.4" font-style="italic" fill="#2b2b2b" stroke="#2b2b2b" stroke-width="0.12">CALR</text>
<rect x="383.07" y="424.18" width="15.73" height="2.2" fill="#40a036"/>
<rect x="398.8" y="424.18" width="50.82" height="2.2" fill="#1c4282"/>
<line x1="322.8" y1="432.96" x2="325.6" y2="432.96" stroke="#222" stroke-width="1"/>
<text x="319.8" y="432.96" text-anchor="end" dominant-baseline="central" font-size="7.4" font-style="italic" fill="#2b2b2b" stroke="#2b2b2b" stroke-width="0.12">JAK2</text>
<rect x="329.83" y="431.86" width="68.97" height="2.2" fill="#40a036"/>
<rect x="398.8" y="431.86" width="44.77" height="2.2" fill="#1c4282"/>
<line x1="325.8" y1="437.5" x2="325.8" y2="440.2" stroke="#222" stroke-width="0.8"/>
<text x="325.8" y="448" text-anchor="middle" dominant-baseline="central" font-size="7.6" fill="#2b2b2b" stroke="#2b2b2b" stroke-width="0.12">0,6</text>
<line x1="350" y1="437.5" x2="350" y2="440.2" stroke="#222" stroke-width="0.8"/>
<text x="350" y="448" text-anchor="middle" dominant-baseline="central" font-size="7.6" fill="#2b2b2b" stroke="#2b2b2b" stroke-width="0.12">0,4</text>
<line x1="374.2" y1="437.5" x2="374.2" y2="440.2" stroke="#222" stroke-width="0.8"/>
<text x="374.2" y="448" text-anchor="middle" dominant-baseline="central" font-size="7.6" fill="#2b2b2b" stroke="#2b2b2b" stroke-width="0.12">0,2</text>
<line x1="398.4" y1="437.5" x2="398.4" y2="440.2" stroke="#222" stroke-width="0.8"/>
<text x="398.4" y="448" text-anchor="middle" dominant-baseline="central" font-size="7.6" fill="#2b2b2b" stroke="#2b2b2b" stroke-width="0.12">0,0</text>
<line x1="422.6" y1="437.5" x2="422.6" y2="440.2" stroke="#222" stroke-width="0.8"/>
<text x="422.6" y="448" text-anchor="middle" dominant-baseline="central" font-size="7.6" fill="#2b2b2b" stroke="#2b2b2b" stroke-width="0.12">0,2</text>
<line x1="446.8" y1="437.5" x2="446.8" y2="440.2" stroke="#222" stroke-width="0.8"/>
<text x="446.8" y="448" text-anchor="middle" dominant-baseline="central" font-size="7.6" fill="#2b2b2b" stroke="#2b2b2b" stroke-width="0.12">0,4</text>
<line x1="471" y1="437.5" x2="471" y2="440.2" stroke="#222" stroke-width="0.8"/>
<text x="471" y="448" text-anchor="middle" dominant-baseline="central" font-size="7.6" fill="#2b2b2b" stroke="#2b2b2b" stroke-width="0.12">0,6</text>
<rect x="433.3" y="310.5" width="5" height="4.3" fill="#1c4282"/><rect x="433.3" y="318" width="5" height="4.2" fill="#40a036"/>
<text x="441.9" y="314.8" font-size="6.8" fill="#333" stroke="#333" stroke-width="0.1">1mut</text><text x="441.9" y="322.3" font-size="6.8" fill="#333" stroke="#333" stroke-width="0.1">multi</text>
<rect x="0.5" y="0.5" width="519" height="478" fill="none" stroke="#4a4a4a" stroke-width="1"/>
</svg></body></html>
